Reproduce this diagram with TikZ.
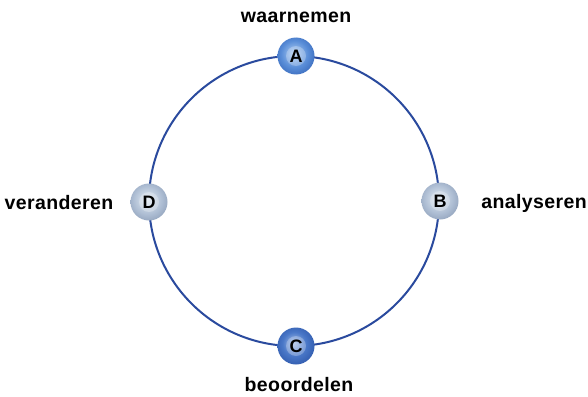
\documentclass[tikz,border=0pt]{standalone}
\usepackage{fontspec}
\setmainfont{Liberation Sans}
\definecolor{aC}{HTML}{B0CEF2}\definecolor{aM}{HTML}{5A8ED8}\definecolor{aD}{HTML}{2A5AB0}\definecolor{aE}{HTML}{183478}
\definecolor{cC}{HTML}{A8C0E8}\definecolor{cM}{HTML}{4A78C8}\definecolor{cD}{HTML}{2750A4}\definecolor{cE}{HTML}{132A68}
\definecolor{gC}{HTML}{E2EBF4}\definecolor{gM}{HTML}{ACBCD2}\definecolor{gD}{HTML}{7C8EAA}\definecolor{gE}{HTML}{42547A}
\pgfdeclareradialshading{sphA}{\pgfpoint{-3bp}{4bp}}{color(0bp)=(aC); color(18bp)=(aM); color(36bp)=(aD); color(50bp)=(aE); color(60bp)=(aE)}
\pgfdeclareradialshading{sphC}{\pgfpoint{-3bp}{4bp}}{color(0bp)=(cC); color(16bp)=(cM); color(34bp)=(cD); color(50bp)=(cE); color(60bp)=(cE)}
\pgfdeclareradialshading{sphG}{\pgfpoint{-3bp}{4bp}}{color(0bp)=(gC); color(20bp)=(gM); color(38bp)=(gD); color(50bp)=(gE); color(60bp)=(gE)}
\begin{document}
\begin{tikzpicture}[x=1pt,y=-1pt,
  ring/.style={draw=ringblue,line width=2pt},
  sphere/.style={circle,minimum size=37pt,inner sep=0pt},
  letter/.style={circle,minimum size=20pt,inner sep=0pt,fill=white,fill opacity=0.25,text opacity=1,font=\bfseries\fontsize{18}{18}\selectfont},
  lbl/.style={font=\bfseries\fontsize{19.5}{20}\selectfont\addfontfeatures{LetterSpace=2},inner sep=0pt}]
\definecolor{ringblue}{HTML}{2A4A9E}
\useasboundingbox[fill=white] (0,0) rectangle (588,396);
\coordinate (O) at (294,201);
\draw[ring] (O) circle[radius=145];
% spheres
\node[sphere,shading=sphA] (A) at (296,56) {};
\node[sphere,shading=sphG] (B) at (440,201) {};
\node[sphere,shading=sphC] (C) at (296,346) {};
\node[sphere,shading=sphG] (D) at (149,202) {};
\node[letter] (a) at (A) {A};
\node[letter] (b) at (B) {B};
\node[letter] (c) at (C) {C};
\node[letter] (d) at (D) {D};
% labels
\node[lbl] (ta) at (296,17) {waarnemen};
\node[lbl] (tb) at (534,203) {analyseren};
\node[lbl] (tc) at (299,385) {beoordelen};
\node[lbl] (td) at (59,203) {veranderen};
\end{tikzpicture}
\end{document}
